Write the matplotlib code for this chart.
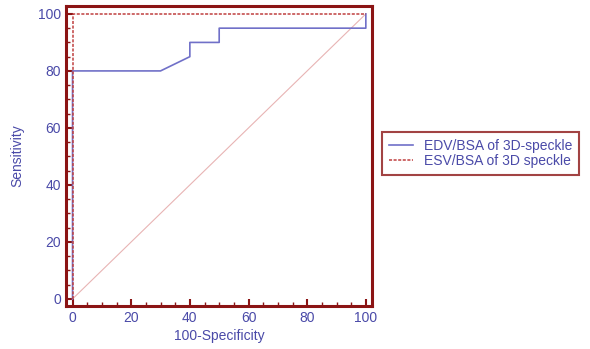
import matplotlib.pyplot as plt
from matplotlib.ticker import MultipleLocator

# ROC curves
edv_x = [0, 0, 30, 40, 40, 50, 50, 100, 100]
edv_y = [0, 80, 80, 85, 90, 90, 95, 95, 100]
esv_x = [0, 0, 100]
esv_y = [0, 100, 100]
diag = [0, 100]

labels = ["EDV/BSA of 3D-speckle", "ESV/BSA of 3D speckle"]
ticks = [0, 20, 40, 60, 80, 100]

frame = "#8b1414"
textc = "#4a4aa8"

plt.rcParams['font.family'] = ['Liberation Sans', 'DejaVu Sans']

fig = plt.figure(figsize=(5.9, 3.49), dpi=100)
ax = fig.add_axes([0.112, 0.123, 0.518, 0.86])

ax.plot(diag, diag, color="#e8b4b4", lw=0.8)
l1, = ax.plot(edv_x, edv_y, color="#7070c8", lw=1.2)
l2, = ax.plot(esv_x, esv_y, color="#c04040", lw=1.1, ls=(0, (2, 1)))

ax.set_xlim(-2.2, 102)
ax.set_ylim(-2.5, 102.8)
ax.set_xticks(ticks)
ax.set_yticks(ticks)
ax.xaxis.set_minor_locator(MultipleLocator(5))
ax.yaxis.set_minor_locator(MultipleLocator(5))
ax.tick_params(which='both', direction='in', color=frame, labelcolor=textc, labelsize=10,
               top=False, right=False)
ax.tick_params(which='major', length=5, width=1.5)
ax.tick_params(which='minor', length=3, width=1)
for s in ax.spines.values():
    s.set_color(frame)
    s.set_linewidth(2.2)

ax.set_xlabel("100-Specificity", color=textc, fontsize=10, labelpad=3)
ax.set_ylabel("Sensitivity", color=textc, fontsize=10, labelpad=10)

leg = fig.legend([l1, l2], labels, loc='center left', bbox_to_anchor=(0.643, 0.56),
                 fontsize=10, frameon=True, fancybox=False, handlelength=1.7,
                 borderpad=0.5, borderaxespad=0.2, labelspacing=0.05, handletextpad=0.8)
leg.get_frame().set_edgecolor(frame)
leg.get_frame().set_linewidth(1.5)
for t in leg.get_texts():
    t.set_color(textc)

fig.savefig("out.png", dpi=100)
